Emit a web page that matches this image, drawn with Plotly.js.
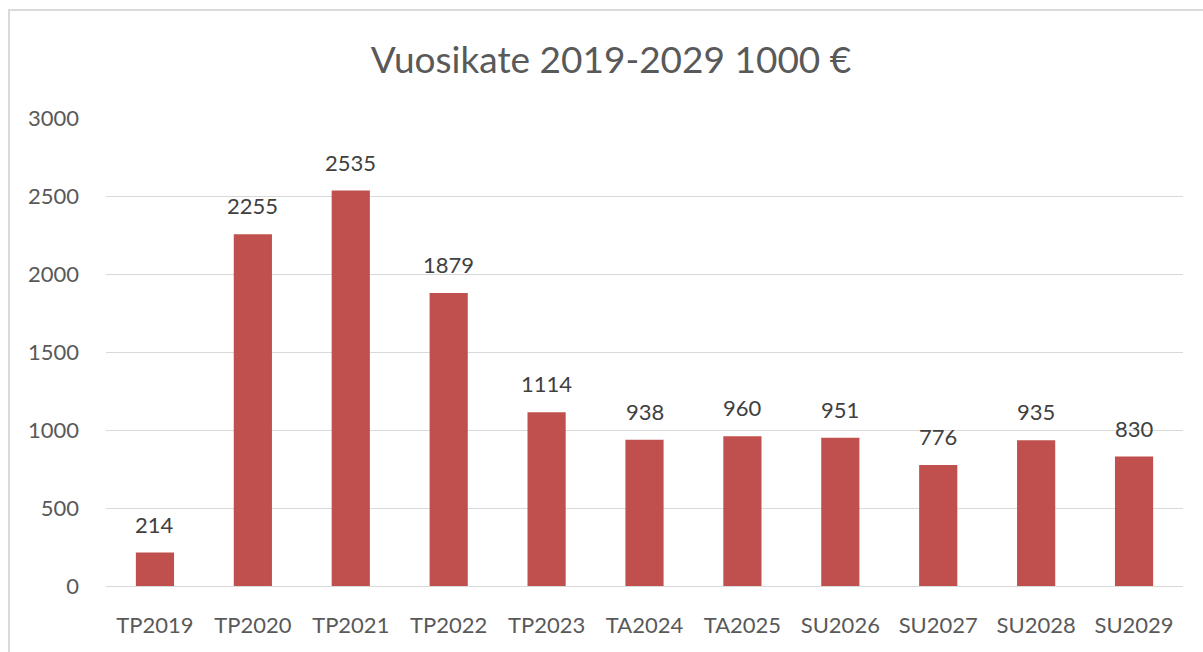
<!DOCTYPE html>
<html>
<head>
<meta charset="utf-8">
<script src="https://cdn.plot.ly/plotly-3.0.1.min.js"></script>
<style>
html,body{margin:0;padding:0;background:#fff;}
#wrap{position:relative;width:1203px;height:652px;}
#chart{width:1203px;height:652px;}
#frame{position:absolute;left:8px;top:9px;width:1300px;height:700px;border-left:2px solid #d9d9d9;border-top:2px solid #d9d9d9;pointer-events:none;}
</style>
</head>
<body>
<div id="wrap"><div id="chart"></div><div id="frame"></div></div>
<script>
const categories = ["TP2019","TP2020","TP2021","TP2022","TP2023","TA2024","TA2025","SU2026","SU2027","SU2028","SU2029"];
const values = [214, 2255, 2535, 1879, 1114, 938, 960, 951, 776, 935, 830];
const yTicks = [0, 500, 1000, 1500, 2000, 2500, 3000];

const FONT = "Lato, 'Open Sans', sans-serif";
const TXT = "#595959";

const trace = {
  type: "bar",
  x: categories,
  y: values,
  marker: {color: "#C0504D"},
  hoverinfo: "x+y"
};

const annotations = categories.map((c, i) => ({
  x: c, y: values[i], xref: "x", yref: "y",
  text: String(values[i]),
  showarrow: false,
  yanchor: "bottom",
  yshift: 13,
  font: {family: FONT, size: 22, color: "#404040"}
}));

const layout = {
  width: 1203, height: 652,
  margin: {l: 106, r: 20, t: 118, b: 66, pad: 0},
  paper_bgcolor: "#ffffff",
  plot_bgcolor: "#ffffff",
  bargap: 0.61,
  showlegend: false,
  title: {
    text: "Vuosikate 2019-2029 1000 €",
    font: {family: FONT, size: 37, color: TXT},
    x: 611/1203, xref: "container", xanchor: "center",
    y: 1 - 60/652, yref: "container", yanchor: "middle"
  },
  xaxis: {
    type: "category",
    showgrid: false,
    showline: true, linecolor: "#d9d9d9", linewidth: 1,
    ticks: "",
    ticklabelstandoff: 20,
    tickfont: {family: FONT, size: 22, color: TXT},
    fixedrange: true
  },
  yaxis: {
    range: [0, 3000],
    tickvals: yTicks,
    ticktext: yTicks.map(String),
    showgrid: true, gridcolor: "#d9d9d9", gridwidth: 1,
    zeroline: false,
    showline: false,
    ticks: "",
    ticklabelstandoff: 26,
    tickfont: {family: FONT, size: 22, color: TXT},
    fixedrange: true
  },
  annotations: annotations
};

Plotly.newPlot("chart", [trace], layout, {displayModeBar: false, staticPlot: true});
</script>
</body>
</html>
